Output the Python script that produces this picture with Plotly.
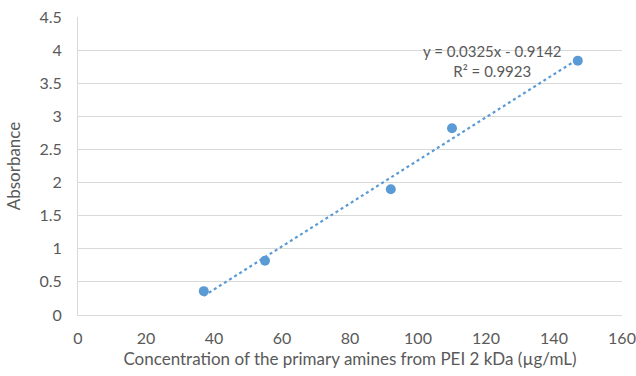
import plotly.graph_objects as go

conc = [37, 55, 92, 110, 147]
absorbance = [0.36, 0.82, 1.9, 2.82, 3.84]
slope = 0.0325
intercept = -0.9142
r2 = 0.9923
x_ticks = [0, 20, 40, 60, 80, 100, 120, 140, 160]
y_ticks = [0, 0.5, 1, 1.5, 2, 2.5, 3, 3.5, 4, 4.5]

font_family = "Lato, 'Open Sans', sans-serif"
grey = "#595959"
blue = "#5b9bd5"

trend_x = [min(conc), max(conc)]
trend_y = [slope * v + intercept for v in trend_x]

fig = go.Figure()
fig.add_trace(go.Scatter(x=trend_x, y=trend_y, mode="lines",
                         line=dict(color=blue, width=2.2, dash="dot"),
                         hoverinfo="skip", showlegend=False))
fig.add_trace(go.Scatter(x=conc, y=absorbance, mode="markers",
                         marker=dict(color=blue, size=10),
                         showlegend=False))

fig.add_annotation(x=121.8, y=3.83, xref="x", yref="y",
                   text=f"y = {slope}x - {abs(intercept)}<br>R² = {r2}",
                   showarrow=False, align="center",
                   font=dict(family=font_family, size=15, color=grey))

fig.update_layout(
    width=636, height=376,
    margin=dict(l=78, r=14, t=17, b=61),
    paper_bgcolor="white", plot_bgcolor="white",
    font=dict(family=font_family, size=16, color=grey),
    xaxis=dict(range=[0, 160], tickvals=x_ticks, showgrid=False,
               showline=True, linecolor="#d9d9d9", linewidth=1,
               zeroline=False, ticks="outside", ticklen=9,
               tickcolor="rgba(0,0,0,0)", automargin=False,
               title=dict(text="Concentration of the primary amines from PEI 2 kDa (µg/mL)",
                          font=dict(size=17, color=grey), standoff=6),
               tickfont=dict(size=16, color=grey)),
    yaxis=dict(range=[0, 4.5], tickvals=y_ticks, showgrid=True,
               gridcolor="#d9d9d9", gridwidth=1,
               showline=True, linecolor="#d9d9d9", linewidth=1,
               zeroline=False, ticks="outside", ticklen=12,
               tickcolor="rgba(0,0,0,0)", automargin=False,
               title=dict(text="Absorbance", font=dict(size=17, color=grey), standoff=14),
               tickfont=dict(size=16, color=grey)),
)

fig.write_html("out.html")
